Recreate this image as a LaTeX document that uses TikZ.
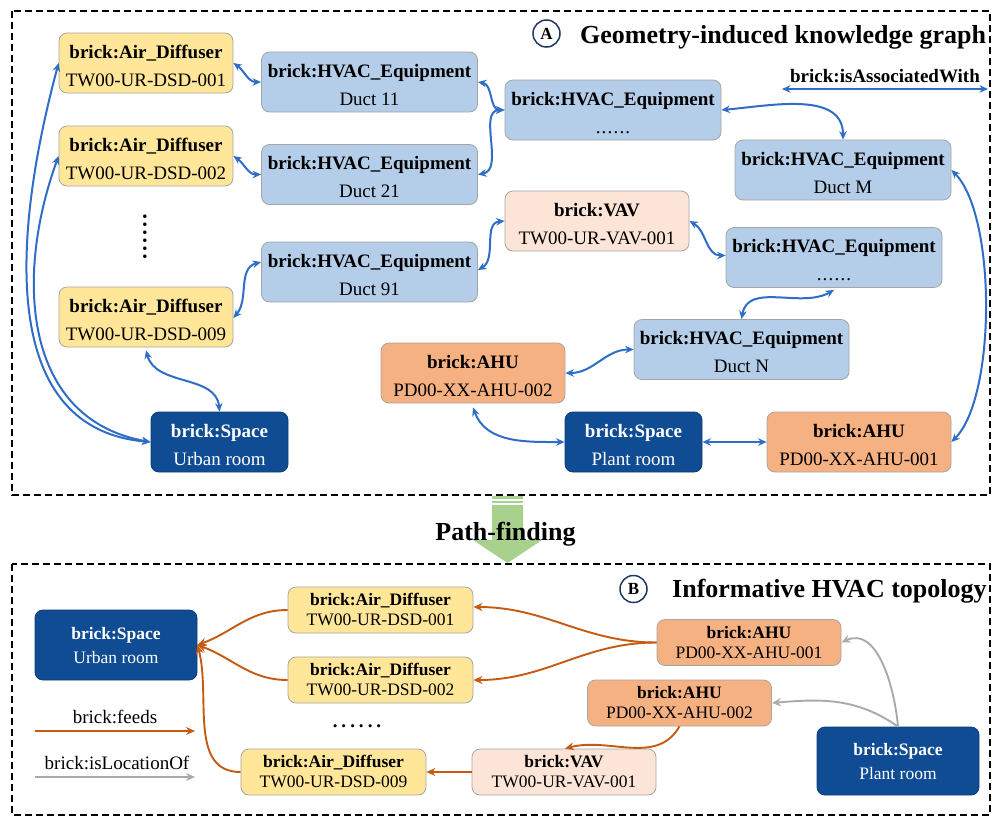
\documentclass[tikz,border=0pt]{standalone}
\usepackage{fontspec}
\setmainfont{Liberation Serif}
\usetikzlibrary{arrows.meta}

\definecolor{adfill}{HTML}{FFE699}
\definecolor{hvfill}{HTML}{B4CDE9}
\definecolor{vavfill}{HTML}{FCE4D6}
\definecolor{ahufill}{HTML}{F6B183}
\definecolor{spacefill}{HTML}{104C94}
\definecolor{spaceline}{HTML}{0B3C78}
\definecolor{boxline}{HTML}{A5A5A5}
\definecolor{assocblue}{HTML}{2F6DC6}
\definecolor{feedorange}{HTML}{C55A11}
\definecolor{locgray}{HTML}{AAAAAA}
\definecolor{pfgreen}{HTML}{A9D18E}
\definecolor{navy}{HTML}{1F3864}

% two-line labels: bold class name over instance name
\newcommand\ttwo[2]{\rule[-2pt]{0pt}{22pt}\textbf{#1}\\\rule[-2pt]{0pt}{22pt}#2}
\newcommand\btwo[2]{\rule[-1.6pt]{0pt}{15pt}\textbf{#1}\\\rule[-1.6pt]{0pt}{15pt}#2}
\newcommand\bspace[2]{\rule[-1.5pt]{0pt}{16pt}\textbf{#1}\\\rule[-1.5pt]{0pt}{16pt}#2}
\newcommand\sixdots[1]{.\kern#1.\kern#1.\kern#1.\kern#1.\kern#1.}

\begin{document}
\begin{tikzpicture}[x=1pt,y=1pt,
  frame/.style={draw=black, line width=1.5pt, dash pattern=on 7pt off 4pt},
  box/.style={draw=boxline, line width=0.8pt, rounded corners=8pt, inner sep=0pt, align=center},
  tbox/.style={box, minimum height=60pt, font=\fontsize{19}{28}\selectfont},
  bbox/.style={box, minimum height=46pt, font=\fontsize{17.5}{20}\selectfont},
  tad/.style={tbox, fill=adfill, minimum width=174pt},
  thv/.style={tbox, fill=hvfill, minimum width=216pt},
  tvav/.style={tbox, fill=vavfill, minimum width=184pt},
  tahu/.style={tbox, fill=ahufill, minimum width=184pt},
  tsp/.style={tbox, fill=spacefill, draw=spaceline, text=white, minimum width=137pt},
  bad/.style={bbox, fill=adfill, minimum width=185pt},
  bvav/.style={bbox, fill=vavfill, minimum width=184pt},
  bahu/.style={bbox, fill=ahufill, minimum width=184pt},
  bsp/.style={box, fill=spacefill, draw=spaceline, text=white, minimum width=162pt,
    font=\fontsize{17.5}{23.5}\selectfont},
  assoc/.style={draw=assocblue, line width=2pt,
    arrows={Stealth[length=8.5pt,width=7.5pt]-Stealth[length=8.5pt,width=7.5pt]}},
  feeds/.style={draw=feedorange, line width=1.9pt, arrows={-Stealth[length=9pt,width=8pt]}},
  locof/.style={draw=locgray, line width=1.9pt, arrows={-Stealth[length=9pt,width=8pt]}},
  badge/.style={circle, draw=navy, line width=1.5pt, minimum size=27pt, inner sep=0pt,
    font=\fontsize{17}{17}\selectfont\bfseries},
  title/.style={anchor=base west, inner sep=0pt, font=\fontsize{26}{26}\selectfont\bfseries},
  legend/.style={anchor=base, inner sep=0pt, font=\fontsize{19}{19}\selectfont}
]
\useasboundingbox (0,0) rectangle (992,-817);

% ---------------- panel A ----------------
\draw[frame] (12,-11) rectangle (990,-495);
\node[badge] (cA) at (546.5,-33.5) {A};
\node[title] (tA) at (580,-43) {Geometry-induced knowledge graph};

\node[legend, font=\fontsize{19}{19}\selectfont\bfseries] (lassoc) at (885,-82) {brick:isAssociatedWith};
\coordinate (as0) at (782,-89);
\coordinate (as1) at (988,-89);
\draw[assoc] (as0) -- (as1);

\node[tad] (ad1) at (146,-63) {\ttwo{brick:Air\_Diffuser}{TW00-UR-DSD-001}};
\node[tad] (ad2) at (146,-156) {\ttwo{brick:Air\_Diffuser}{TW00-UR-DSD-002}};
\node[tad] (ad9) at (146,-317) {\ttwo{brick:Air\_Diffuser}{TW00-UR-DSD-009}};
\node[rotate=90, inner sep=0pt, font=\fontsize{22}{22}\selectfont\bfseries] (vdots) at (145,-237) {\sixdots{2.5pt}};

\node[thv] (d11) at (369.5,-82) {\ttwo{brick:HVAC\_Equipment}{Duct 11}};
\node[thv] (d21) at (369.5,-174.5) {\ttwo{brick:HVAC\_Equipment}{Duct 21}};
\node[thv] (d91) at (369.5,-272) {\ttwo{brick:HVAC\_Equipment}{Duct 91}};
\node[thv] (h1) at (613,-110) {\ttwo{brick:HVAC\_Equipment}{\sixdots{1.2pt}}};
\node[thv] (dM) at (843,-170) {\ttwo{brick:HVAC\_Equipment}{Duct M}};
\node[tvav] (vav) at (597,-221) {\ttwo{brick:VAV}{TW00-UR-VAV-001}};
\node[thv] (h2) at (834,-257.5) {\ttwo{brick:HVAC\_Equipment}{\sixdots{1.2pt}}};
\node[thv, minimum width=215pt] (dN) at (741.5,-349.5) {\ttwo{brick:HVAC\_Equipment}{Duct N}};
\node[tahu] (ahu2) at (473,-373) {\ttwo{brick:AHU}{PD00-XX-AHU-002}};
\node[tsp] (urb) at (219.5,-442) {\ttwo{brick:Space}{Urban room}};
\node[tsp] (plant) at (633.5,-442) {\ttwo{brick:Space}{Plant room}};
\node[tahu] (ahu1) at (859,-442) {\ttwo{brick:AHU}{PD00-XX-AHU-001}};

\draw[assoc] (ad1.east) to[out=-35, in=180] (d11.west);
\draw[assoc] (ad2.east) to[out=-35, in=180] (d21.west);
\draw[assoc] ([yshift=-1pt]ad9.east) to[out=50, in=195] ([yshift=10pt]d91.west);
\draw[assoc] (d11.east) to[out=-10, in=180] (h1.west);
\draw[assoc] (d21.east) to[out=10, in=180] (h1.west);
\draw[assoc] ([yshift=2pt]d91.east) to[out=30, in=185] (vav.west);
\draw[assoc] (h1.east) to[out=5, in=90] (dM.north);
\draw[assoc] (vav.east) to[out=-30, in=180] ([yshift=2pt]h2.west);
\draw[assoc] ([yshift=-2pt]h2.south) to[out=210, in=80] (dN.north);
\draw[assoc] (dN.west) to[out=180, in=0] (ahu2.east);
\draw[assoc] ([yshift=-4pt]ahu2.south) to[out=-70, in=180] (plant.west);
\draw[assoc] (plant.east) -- (ahu1.west);
\draw[assoc] (dM.east) to[out=-45, in=45, looseness=0.6] (ahu1.east);
\draw[assoc] ([yshift=-3pt]ad9.south) to[out=-75, in=95] (urb.north);
\draw[assoc] (urb.west) to[out=175, in=255, looseness=1.05] (ad1.west);
\draw[assoc] (urb.west) to[out=170, in=250, looseness=1.1] (ad2.west);

% ---------------- transition ----------------
\fill[pfgreen] (492,-496) rectangle (523,-498.6);
\fill[pfgreen] (492,-500.6) rectangle (523,-503.2);
\fill[pfgreen] (492,-505) -- (523,-505) -- (523,-540) -- (542,-540) -- (507.5,-563)
  -- (473,-540) -- (492,-540) -- cycle;
\node[anchor=base, inner sep=0pt, font=\fontsize{26}{26}\selectfont\bfseries] (pf) at (505.5,-540) {Path-finding};

% ---------------- panel B ----------------
\draw[frame] (12,-564) rectangle (990,-815);
\node[badge] (cB) at (633.5,-589) {B};
\node[title] (tB) at (672,-597) {Informative HVAC topology};

\node[bsp, minimum height=70pt] (burb) at (116,-645) {\bspace{brick:Space}{Urban room}};
\node[bad] (bad1) at (380.5,-610) {\btwo{brick:Air\_Diffuser}{TW00-UR-DSD-001}};
\node[bad] (bad2) at (380.5,-680) {\btwo{brick:Air\_Diffuser}{TW00-UR-DSD-002}};
\node[inner sep=0pt, font=\fontsize{19}{19}\selectfont\bfseries, anchor=base] (bdots) at (357,-727) {\sixdots{4pt}};
\node[bad] (bad9) at (333.5,-772) {\btwo{brick:Air\_Diffuser}{TW00-UR-DSD-009}};
\node[bahu] (bahu1) at (749,-642.5) {\btwo{brick:AHU}{PD00-XX-AHU-001}};
\node[bahu] (bahu2) at (679.5,-703) {\btwo{brick:AHU}{PD00-XX-AHU-002}};
\node[bvav] (bvav) at (564,-772) {\btwo{brick:VAV}{TW00-UR-VAV-001}};
\node[bsp, minimum height=68pt] (bplant) at (898,-761) {\bspace{brick:Space}{Plant room}};

\node[legend] (lfeeds) at (115,-723) {brick:feeds};
\coordinate (fd0) at (35,-731);
\coordinate (fd1) at (195,-731);
\draw[feeds] (fd0) -- (fd1);
\node[legend] (lloc) at (117,-769) {brick:isLocationOf};
\coordinate (lc0) at (35,-777);
\coordinate (lc1) at (195,-777);
\draw[locof] (lc0) -- (lc1);

\draw[feeds] (bad1.west) to[out=180, in=20] (burb.east);
\draw[feeds] (bad2.west) to[out=180, in=-20] (burb.east);
\draw[feeds] (bad9.west) to[out=180, in=-75] (burb.east);
\draw[feeds] (bahu1.west) to[out=180, in=0] ([yshift=3pt]bad1.east);
\draw[feeds] (bahu1.west) to[out=180, in=0] (bad2.east);
\draw[feeds] (bahu2.south) to[out=-120, in=15] ([xshift=1pt]bvav.north);
\draw[feeds] (bvav.west) -- (bad9.east);
\draw[locof] (bplant.north) to[out=95, in=25] (bahu1.east);
\draw[locof] (bplant.north) to[out=145, in=5] (bahu2.east);
\end{tikzpicture}
\end{document}
